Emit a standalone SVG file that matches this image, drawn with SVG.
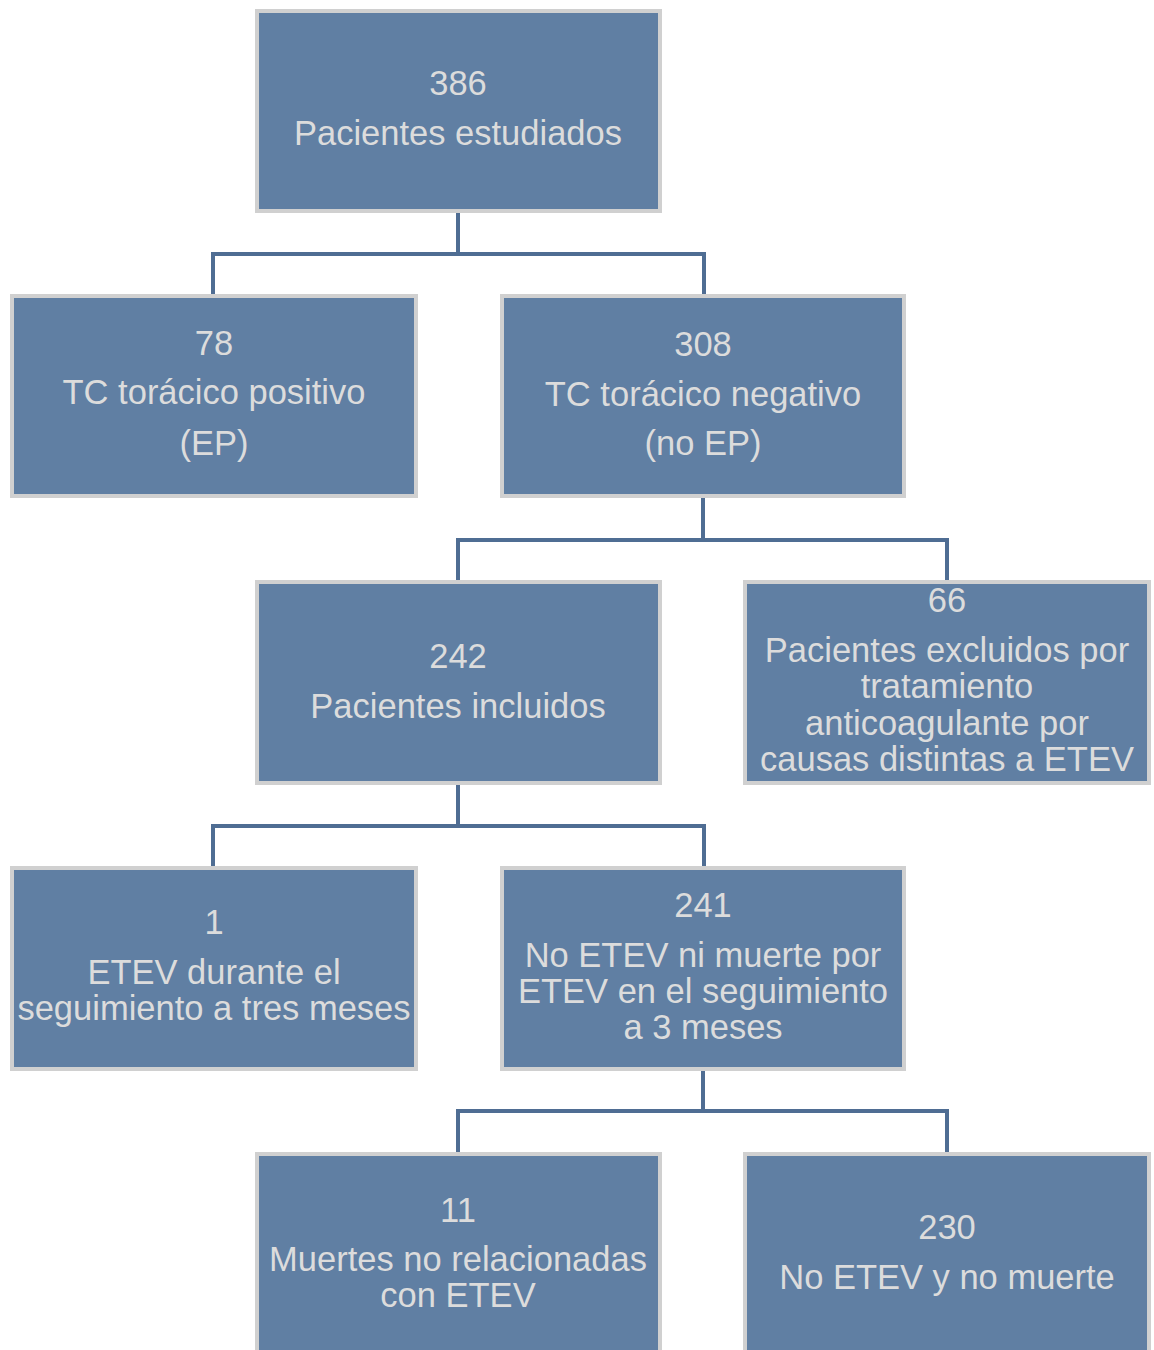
<svg xmlns="http://www.w3.org/2000/svg" width="1154" height="1350" viewBox="0 0 1154 1350">
<style>
.box{fill:#607fa3;stroke:#d0d0d0;stroke-width:4}
.t{font-family:"Liberation Sans",Arial,sans-serif;font-size:34.5px;fill:#dcdcdc;text-anchor:middle}
.c{fill:none;stroke:#4f6d93;stroke-width:4}
</style>
<rect width="1154" height="1350" fill="#ffffff"/>
<g id="connectors">
<path class="c" d="M458 213V254M213 254H704M213 252V294M704 252V294"/>
<path class="c" d="M703 498V540M458 540H948M458 538V580M947 538V580"/>
<path class="c" d="M458 785V826M213 826H704M213 824V866M704 824V866"/>
<path class="c" d="M703 1071V1111M458 1111H948M458 1109V1152M947 1109V1152"/>
</g>
<g id="n386"><rect class="box" x="257" y="11" width="403" height="200"/>
<text class="t" x="458" y="95">386</text><text class="t" x="458" y="145">Pacientes estudiados</text></g>
<g id="n78"><rect class="box" x="12" y="296" width="404" height="200"/>
<text class="t" x="214" y="355">78</text><text class="t" x="214" y="404">TC torácico positivo</text><text class="t" x="214" y="455">(EP)</text></g>
<g id="n308"><rect class="box" x="502" y="296" width="402" height="200"/>
<text class="t" x="703" y="356">308</text><text class="t" x="703" y="406">TC torácico negativo</text><text class="t" x="703" y="455">(no EP)</text></g>
<g id="n242"><rect class="box" x="257" y="582" width="403" height="201"/>
<text class="t" x="458" y="668">242</text><text class="t" x="458" y="718">Pacientes incluidos</text></g>
<g id="n66"><rect class="box" x="745" y="582" width="404" height="201"/>
<text class="t" x="947" y="612">66</text><text class="t" x="947" y="662">Pacientes excluidos por</text><text class="t" x="947" y="698">tratamiento</text><text class="t" x="947" y="735">anticoagulante por</text><text class="t" x="947" y="771">causas distintas a ETEV</text></g>
<g id="n1"><rect class="box" x="12" y="868" width="404" height="201"/>
<text class="t" x="214" y="934">1</text><text class="t" x="214" y="984">ETEV durante el</text><text class="t" x="214" y="1020">seguimiento a tres meses</text></g>
<g id="n241"><rect class="box" x="502" y="868" width="402" height="201"/>
<text class="t" x="703" y="917">241</text><text class="t" x="703" y="967">No ETEV ni muerte por</text><text class="t" x="703" y="1003">ETEV en el seguimiento</text><text class="t" x="703" y="1039">a 3 meses</text></g>
<g id="n11"><rect class="box" x="257" y="1154" width="403" height="210"/>
<text class="t" x="458" y="1222">11</text><text class="t" x="458" y="1271">Muertes no relacionadas</text><text class="t" x="458" y="1307">con ETEV</text></g>
<g id="n230"><rect class="box" x="745" y="1154" width="404" height="210"/>
<text class="t" x="947" y="1239">230</text><text class="t" x="947" y="1289">No ETEV y no muerte</text></g>
</svg>
